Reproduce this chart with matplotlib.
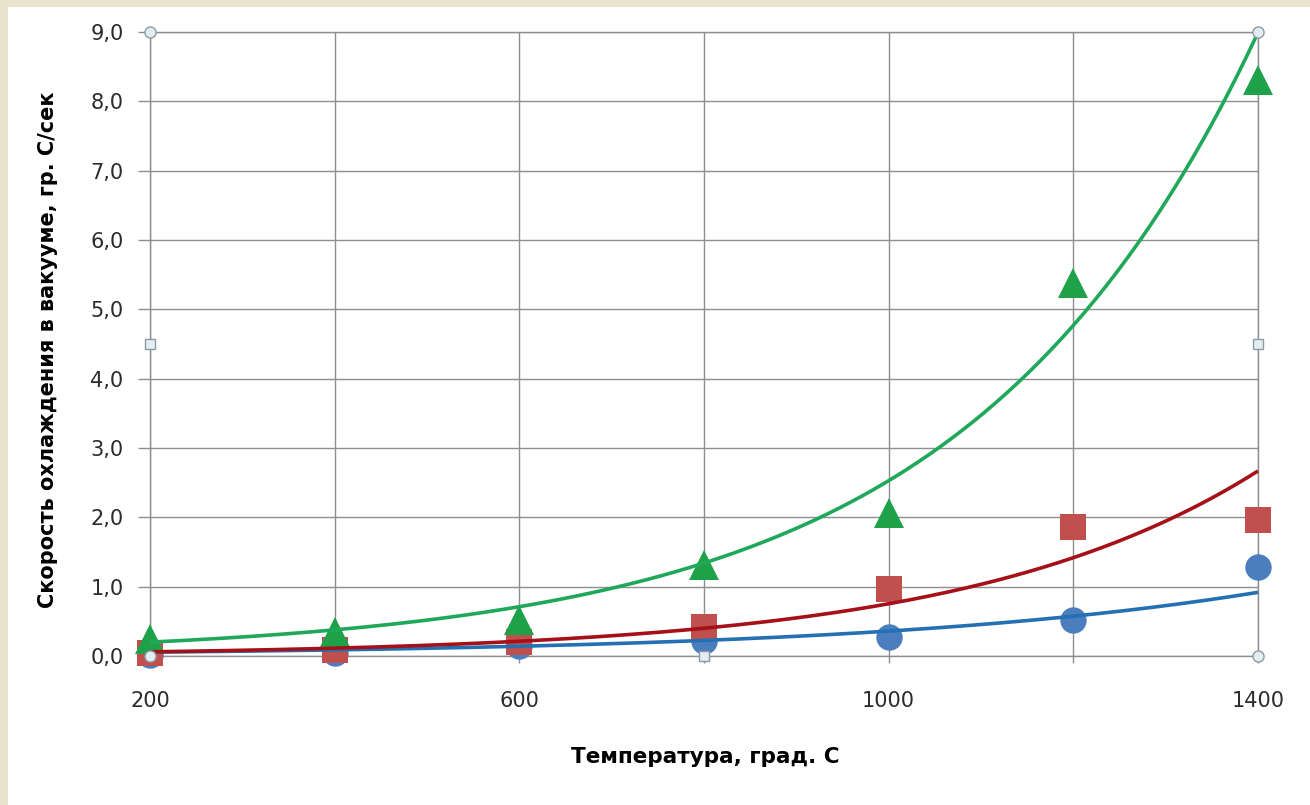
import numpy as np
import matplotlib
matplotlib.use("Agg")
import matplotlib.pyplot as plt
from matplotlib.patches import Rectangle

# Measured cooling rates (°C/s) at each temperature
temperature = [200, 400, 600, 800, 1000, 1200, 1400]
rate_circle = [0.02, 0.05, 0.15, 0.22, 0.27, 0.52, 1.28]
rate_square = [0.05, 0.08, 0.20, 0.42, 0.96, 1.86, 1.96]
rate_triangle = [0.25, 0.35, 0.52, 1.31, 2.06, 5.38, 8.31]

# Exponential trend lines y = a * exp(b * T)
trend_circle = (0.0344, 0.002346)
trend_square = (0.0319, 0.003162)
trend_triangle = (0.106, 0.003172)

x_ticks = [200, 400, 600, 800, 1000, 1200, 1400]
x_tick_labels = ["200", "", "600", "", "1000", "", "1400"]
y_ticks = np.arange(0, 10, 1)
y_tick_labels = [f"{v:.1f}".replace(".", ",") for v in y_ticks]

W, H = 1310, 805
fig = plt.figure(figsize=(W / 100, H / 100), dpi=100)
fig.patch.set_facecolor("#E9E3CD")
fig.add_artist(Rectangle((8 / W, 0), 1 - 8 / W, 1 - 7 / H,
                         transform=fig.transFigure, facecolor="white",
                         edgecolor="none", zorder=-10))

ax = fig.add_axes([150 / W, 1 - 656 / H, (1258 - 150) / W, (656 - 32) / H])
ax.set_facecolor("white")

grid_color = "#8E8E8E"
ax.set_xlim(200, 1400)
ax.set_ylim(0, 9)
ax.set_xticks(x_ticks)
ax.set_xticklabels(x_tick_labels)
ax.set_yticks(y_ticks)
ax.set_yticklabels(y_tick_labels)
ax.grid(True, color=grid_color, linewidth=1.0, zorder=1)
ax.set_axisbelow(True)
for s in ax.spines.values():
    s.set_color(grid_color)
    s.set_linewidth(1.0)

ax.tick_params(axis="y", length=9, width=1.0, color=grid_color, pad=10,
               labelsize=15, labelcolor="#2B2B2B")
ax.tick_params(axis="x", length=5, width=1.0, color=grid_color, pad=20,
               labelsize=15, labelcolor="#2B2B2B")

# Data markers
ax.plot(temperature, rate_circle, linestyle="none", marker="o", markersize=19,
        color="#4A7EBF", markeredgewidth=0, zorder=3, clip_on=False)
ax.plot(temperature, rate_square, linestyle="none", marker="s", markersize=19,
        color="#C0504D", markeredgewidth=0, zorder=3, clip_on=False)
ax.plot(temperature, rate_triangle, linestyle="none", marker="^", markersize=21,
        color="#1FA149", markeredgewidth=0, zorder=3, clip_on=False)

# Trend lines
tt = np.linspace(200, 1400, 300)
for (a, b), c in [(trend_circle, "#2370B2"), (trend_square, "#A61119"),
                  (trend_triangle, "#20A85A")]:
    ax.plot(tt, a * np.exp(b * tt), color=c, linewidth=2.6, zorder=4,
            clip_on=False, solid_capstyle="butt")

# Plot-area selection handles
handle_kw = dict(transform=ax.transAxes, clip_on=False, zorder=6,
                 markerfacecolor="#E4EEF2", markeredgecolor="#8A9BA6",
                 markeredgewidth=1.0, linestyle="none")
for hx, hy in [(0, 0), (0, 1), (1, 0), (1, 1)]:
    ax.plot([hx], [hy], marker="o", markersize=8, **handle_kw)
for hx, hy in [(0, 0.5), (1, 0.5), (0.5, 0)]:
    ax.plot([hx], [hy], marker="s", markersize=6.5, **handle_kw)

fig.text(48 / W, 1 - 350 / H, "Скорость охлаждения в вакууме, гр. С/сек",
         rotation=90, ha="center", va="center", fontsize=15, fontweight="bold",
         family=["DejaVu Sans"], color="black")
fig.text(705 / W, 1 - 757 / H, "Температура, град. С", ha="center", va="center",
         fontsize=15.5, fontweight="bold", family=["DejaVu Sans"], color="black")

fig.savefig("out.png", dpi=100)
